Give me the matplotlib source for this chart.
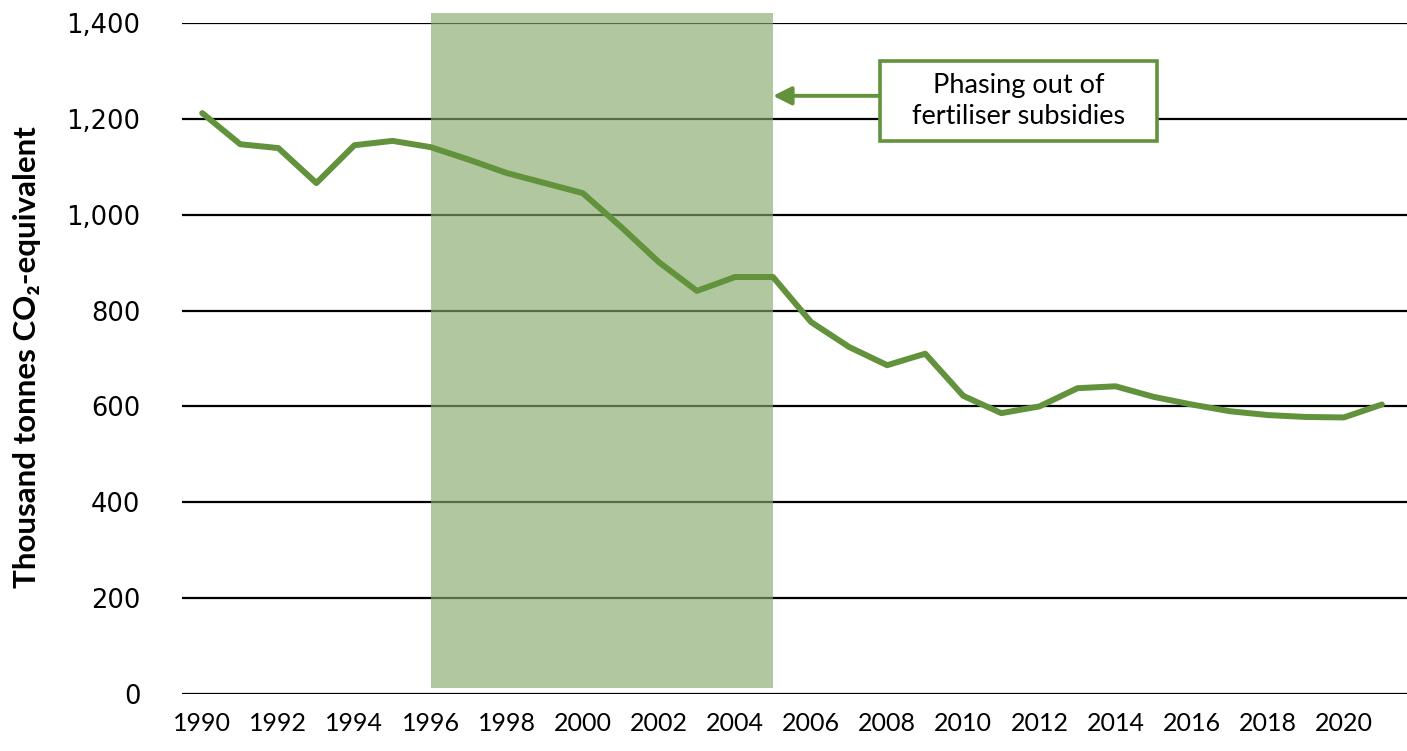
import matplotlib
matplotlib.use("Agg")
import matplotlib.pyplot as plt
from matplotlib.patches import Rectangle

# emissions from fertiliser use, thousand tonnes CO2-eq
years = list(range(1990, 2022))
emissions = [1212, 1147, 1139, 1066, 1145, 1154, 1141, 1115, 1087, 1066,
             1045, 975, 901, 841, 870, 870, 776, 724, 686, 710,
             622, 586, 600, 638, 642, 620, 604, 590, 582, 578,
             577, 604]

subsidy_start = 1996
subsidy_end = 2005
note = "Phasing out of\nfertiliser subsidies"

green = "#62923c"
shade = "#86a96d"

fig = plt.figure(figsize=(14.07, 7.51), dpi=100)
ax = fig.add_axes([0.1294, 0.0759, 0.8706, 0.8935])

ax.set_xlim(1989.47, 2021.66)
ax.set_ylim(0, 1400)

# horizontal gridlines drawn by hand so they start at the axes edge
for y in range(0, 1401, 200):
    ax.axhline(y, color="black", lw=1.6, zorder=1)

# period of subsidy phase-out
ax.add_patch(Rectangle((subsidy_start, 12), subsidy_end - subsidy_start, 1408,
                       facecolor=shade, alpha=0.65, edgecolor="none",
                       zorder=2, clip_on=False))

ax.plot(years, emissions, color=green, lw=4.3, solid_joinstyle="round",
        solid_capstyle="round", zorder=3, clip_on=False)

# note box with an arrow pointing back at the end of the shaded period
box_x, box_y, box_w, box_h = 2007.8, 1154, 7.3, 167
ax.add_patch(Rectangle((box_x, box_y), box_w, box_h, facecolor="white",
                       edgecolor=green, lw=2.6, zorder=4))
ax.text(box_x + box_w / 2, box_y + box_h / 2, note, ha="center", va="center",
        fontsize=19.5, family="Lato", linespacing=1.3, zorder=5)
ax.annotate("", xy=(subsidy_end, 1248), xytext=(box_x, 1248),
            arrowprops=dict(arrowstyle="-|>,head_length=1.1,head_width=0.55",
                            color=green, lw=2.8, shrinkA=0, shrinkB=0),
            zorder=4)

for s in ax.spines.values():
    s.set_visible(False)
ax.tick_params(length=0)
ax.set_yticks(range(0, 1401, 200))
ax.set_yticklabels([f"{v:,}" for v in range(0, 1401, 200)],
                   fontsize=18.5, family="DejaVu Sans")
ax.tick_params(axis="y", pad=30)
ax.set_xticks(years[::2])
ax.set_xticklabels([str(y) for y in years[::2]], fontsize=18, family="Lato")
ax.tick_params(axis="x", pad=13)

fig.text(0.019, 0.525, "Thousand tonnes CO\u2082-equivalent", rotation=90,
         ha="center", va="center", fontsize=22.5, fontweight="bold",
         family="Lato")

fig.savefig("out.png", dpi=100)
